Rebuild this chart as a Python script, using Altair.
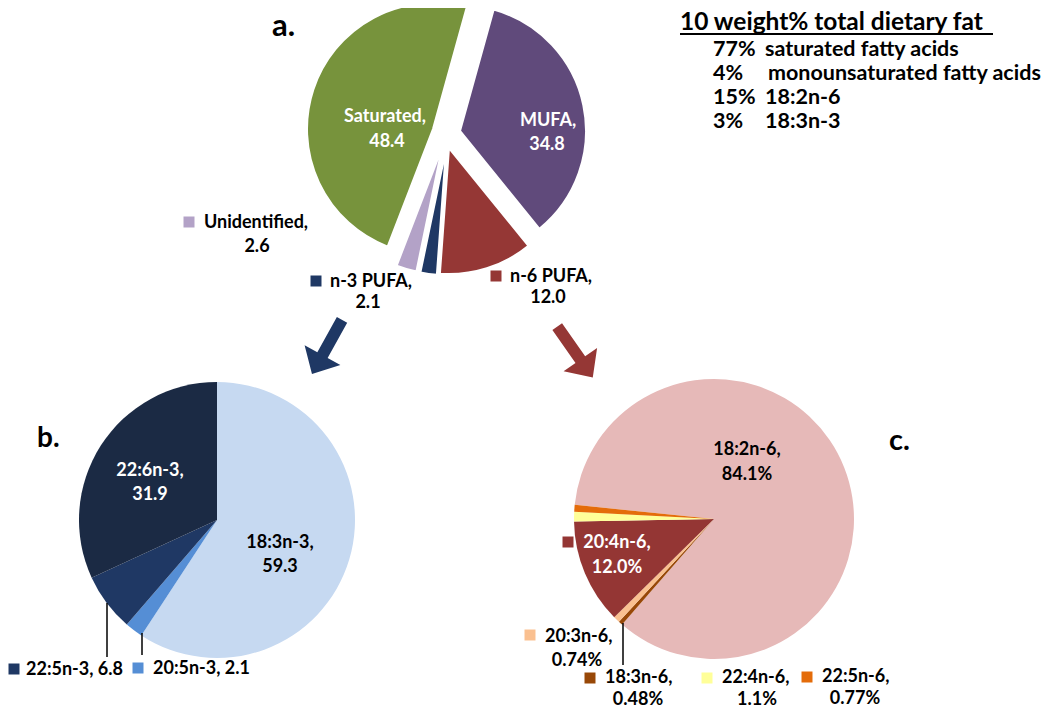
import math
import numpy as np
import pandas as pd
import altair as alt

# ---------------- data ----------------
pie_a_names = ["MUFA", "n-6 PUFA", "n-3 PUFA", "Unidentified", "Saturated"]
pie_a_values = [34.8, 12.0, 2.1, 2.6, 48.4]

pie_b_names = ["18:3n-3", "20:5n-3", "22:5n-3", "22:6n-3"]
pie_b_values = [59.3, 2.1, 6.8, 31.9]

pie_c_names = ["18:2n-6", "18:3n-6", "20:3n-6", "20:4n-6", "22:4n-6", "22:5n-6"]
pie_c_values = [84.1, 0.48, 0.74, 12.0, 1.1, 0.77]

diet_title = "10 weight% total dietary fat"
diet_pct = ["77%", "4%", "15%", "3%"]
diet_items = ["saturated fatty acids", "monounsaturated fatty acids", "18:2n-6", "18:3n-3"]

# ---------------- styles ----------------
colors_a = ["#604A7B", "#953735", "#1F3864", "#B3A2C7", "#77933C"]
colors_b = ["#C6D9F1", "#558ED5", "#1F3864", "#1B2A44"]
colors_c = ["#E6B9B8", "#984807", "#FAC090", "#943634", "#FFFF99", "#E46C0A"]

FONT = "Lato"
LS = 18  # label font size
OFF = 8  # page margin
W, H = 1034, 701


def frame(names, values):
    v = np.array(values, dtype=float)
    end = np.cumsum(v)
    start = end - v
    return pd.DataFrame({"name": names, "value": v, "start": start, "end": end}), float(end[-1])


def arc_layer(df, total, a0_deg, cx, cy, R, names, cols, only=None, stroke=None, sw=0):
    base = alt.Chart(df)
    if only is not None:
        base = base.transform_filter(alt.datum.name == only)
    a0 = math.radians(a0_deg)
    kw = dict(radius=R)
    if stroke:
        kw.update(stroke=stroke, strokeWidth=sw)
    return base.mark_arc(**kw).encode(
        theta=alt.Theta("start:Q", scale=alt.Scale(domain=[0, total], range=[a0, a0 + 2 * math.pi])),
        theta2=alt.Theta2("end:Q"),
        color=alt.Color("name:N", scale=alt.Scale(domain=names, range=cols), legend=None),
        x=alt.value(cx - OFF),
        y=alt.value(cy - OFF),
    )


one = pd.DataFrame({"k": [0]})


def txt(s, x, y, size=LS, color="black", align="center", weight="bold", baseline="middle"):
    return alt.Chart(one).mark_text(
        font=FONT, fontSize=size, fontWeight=weight, color=color, align=align, baseline=baseline
    ).encode(x=alt.value(x - OFF), y=alt.value(y - OFF), text=alt.value(s))


def sq(x, y, col, size=121):
    return alt.Chart(one).mark_square(size=size, color=col, opacity=1, filled=True).encode(
        x=alt.value(x - OFF), y=alt.value(y - OFF)
    )


def rule(x1, y1, x2, y2, col="black", w=1.5):
    return alt.Chart(one).mark_rule(color=col, strokeWidth=w).encode(
        x=alt.value(x1 - OFF), y=alt.value(y1 - OFF), x2=alt.value(x2 - OFF), y2=alt.value(y2 - OFF)
    )


ARROW = "M0,-1L0.66,-0.3L0.19,-0.3L0.19,1L-0.19,1L-0.19,-0.3L-0.66,-0.3Z"


def arrow(x, y, ang, col, length=62):
    return alt.Chart(one).mark_point(
        shape=ARROW, angle=ang, size=length * length, filled=True, color=col, opacity=1, strokeWidth=0
    ).encode(x=alt.value(x - OFF), y=alt.value(y - OFF))


layers = []

# ---------------- pie a (exploded) ----------------
dfa, ta = frame(pie_a_names, pie_a_values)
a_centers = {
    "MUFA": (460, 131),
    "n-6 PUFA": (449, 148),
    "n-3 PUFA": (446, 149),
    "Unidentified": (442, 148),
    "Saturated": (433, 129),
}
for nm in pie_a_names:
    cx, cy = a_centers[nm]
    layers.append(arc_layer(dfa, ta, 15.5, cx, cy, 126, pie_a_names, colors_a, only=nm,
                            stroke="white", sw=2))

# ---------------- pie b ----------------
dfb, tb = frame(pie_b_names, pie_b_values)
layers.append(arc_layer(dfb, tb, 0, 217, 520, 138, pie_b_names, colors_b))

# ---------------- pie c ----------------
dfc, tc = frame(pie_c_names, pie_c_values)
layers.append(arc_layer(dfc, tc, 275.8, 714, 519, 140, pie_c_names, colors_c))

# ---------------- labels pie a ----------------
A = dict(zip(pie_a_names, pie_a_values))
CA = dict(zip(pie_a_names, colors_a))
layers += [
    txt("Saturated,", 385, 117, color="white"),
    txt(str(A["Saturated"]), 387, 142, color="white"),
    txt("MUFA,", 548, 121, color="white"),
    txt(str(A["MUFA"]), 547, 145, color="white"),
    sq(189, 222, CA["Unidentified"]),
    txt("Unidentified,", 204, 223, align="left"),
    txt(str(A["Unidentified"]), 257, 247),
    sq(316, 281, CA["n-3 PUFA"]),
    txt("n-3 PUFA,", 330, 282, align="left"),
    txt(str(A["n-3 PUFA"]), 368, 303),
    sq(496, 276, CA["n-6 PUFA"]),
    txt("n-6 PUFA,", 510, 277, align="left"),
    txt(str(A["n-6 PUFA"]), 548, 298),
]

# ---------------- labels pie b ----------------
B = dict(zip(pie_b_names, pie_b_values))
CB = dict(zip(pie_b_names, colors_b))
layers += [
    txt("22:6n-3,", 150, 471, color="white"),
    txt(str(B["22:6n-3"]), 150, 495, color="white"),
    txt("18:3n-3,", 280, 543),
    txt(str(B["18:3n-3"]), 280, 567),
    rule(107, 603, 107, 657),
    rule(142, 633, 142, 655),
    sq(14, 669, CB["22:5n-3"]),
    txt(f"22:5n-3, {B['22:5n-3']}", 26, 670, align="left"),
    sq(138, 668, CB["20:5n-3"]),
    txt(f"20:5n-3, {B['20:5n-3']}", 153, 669, align="left"),
]

# ---------------- labels pie c ----------------
C = dict(zip(pie_c_names, pie_c_values))
CC = dict(zip(pie_c_names, colors_c))
layers += [
    txt("18:2n-6,", 747, 450),
    txt(f"{C['18:2n-6']}%", 747, 475),
    sq(568, 542, CC["20:4n-6"]),
    txt("20:4n-6,", 617, 543, color="white"),
    txt(f"{C['20:4n-6']}%", 617, 568, color="white"),
    rule(623, 623, 623, 665),
    sq(530, 635, CC["20:3n-6"]),
    txt("20:3n-6,", 545, 637, align="left"),
    txt(f"{C['20:3n-6']}%", 577, 661),
    sq(590, 678, CC["18:3n-6"]),
    txt("18:3n-6,", 605, 678, align="left"),
    txt(f"{C['18:3n-6']}%", 638, 700),
    sq(707, 678, CC["22:4n-6"]),
    txt("22:4n-6,", 722, 678, align="left"),
    txt(f"{C['22:4n-6']}%", 757, 700),
    sq(807, 677, CC["22:5n-6"]),
    txt("22:5n-6,", 822, 677, align="left"),
    txt(f"{C['22:5n-6']}%", 855, 699),
]

# ---------------- panel letters ----------------
layers += [
    txt("a.", 272, 36, size=31, align="left", baseline="alphabetic"),
    txt("b.", 37, 447, size=28, align="left", baseline="alphabetic"),
    txt("c.", 889, 450, size=29, align="left", baseline="alphabetic"),
]

# ---------------- arrows ----------------
layers += [
    arrow(327, 347, 209, CA["n-3 PUFA"]),
    arrow(575, 352, 145, CA["n-6 PUFA"]),
]

# ---------------- diet inset ----------------
layers.append(txt(diet_title, 680, 30, size=24.5, align="left", baseline="alphabetic"))
layers.append(rule(680, 34, 993, 34, w=2))
ys = [50, 74, 98, 122]
xs_item = [765, 768, 765, 765]
for p, it, yy, xi in zip(diet_pct, diet_items, ys, xs_item):
    layers.append(txt(p, 713, yy, size=21.5, align="left"))
    layers.append(txt(it, xi, yy, size=21.5, align="left"))

chart = alt.layer(*layers).resolve_scale(theta="independent", color="independent").properties(
    width=W, height=H, padding=0, autosize=alt.AutoSizeParams(type="none")
).configure_view(stroke=None)

chart.save("out.html", embed_options={"renderer": "svg", "actions": False})
